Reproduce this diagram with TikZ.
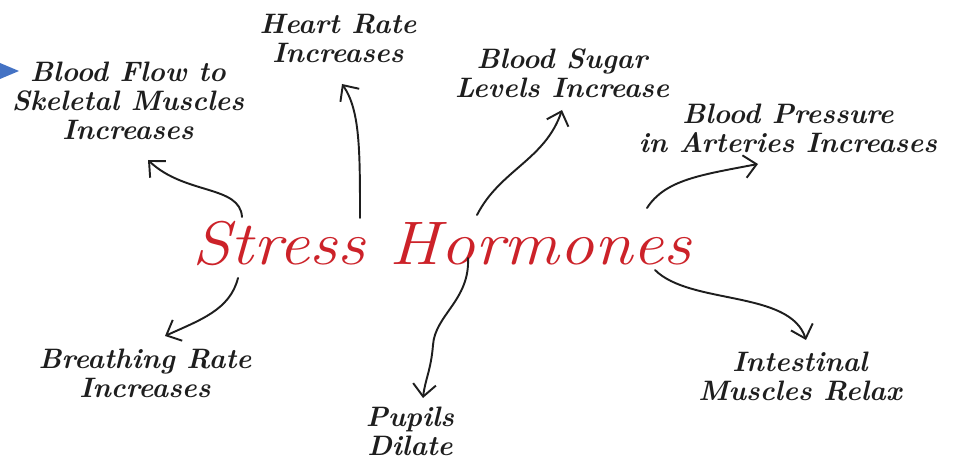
\documentclass[tikz,border=0pt]{standalone}
\usetikzlibrary{arrows.meta}
\definecolor{ink}{RGB}{30,30,30}
\definecolor{shred}{RGB}{204,34,41}
\definecolor{bluetri}{RGB}{68,114,196}
\begin{document}
\begin{tikzpicture}[x=0.02cm,y=-0.02cm,
  lbl/.style={font=\fontsize{16}{16.5}\selectfont\bfseries\itshape, align=center, text=ink, inner sep=0pt},
  arr/.style={line width=1.1pt, draw=ink, line cap=round,
    -{Straight Barb[length=7pt,width=13pt,line width=1.1pt]}},
]
\useasboundingbox (0,0) rectangle (953,459);
\fill[bluetri] (0,63) -- (19,71) -- (0,79) -- cycle;
\node[font=\fontsize{35}{35}\selectfont\itshape, text=shred, inner sep=0pt, xscale=1.13] (sh) at (442,243) {Stress Hormones};
\node[lbl] (bf) at (128,101) {Blood Flow to\\Skeletal Muscles\\Increases};
\node[lbl] (hr) at (338,38) {Heart Rate\\Increases};
\node[lbl] (bs) at (562,73) {Blood Sugar\\Levels Increase};
\node[lbl] (bp) at (788,128) {Blood Pressure\\in Arteries Increases};
\node[lbl] (br) at (145,373) {Breathing Rate\\Increases};
\node[lbl] (pu) at (410,431) {Pupils\\Dilate};
\node[lbl] (im) at (800,376) {Intestinal\\Muscles Relax};
% start and end points
\coordinate (s1) at (242,217); \coordinate (e1) at (148,160);
\coordinate (s2) at (360,218); \coordinate (e2) at (342,84);
\coordinate (s3) at (477,215); \coordinate (e3) at (562,110);
\coordinate (s4) at (647,208); \coordinate (e4) at (758,164);
\coordinate (s5) at (238,278); \coordinate (e5) at (165,336);
\coordinate (s6) at (468,258); \coordinate (m6) at (433,345); \coordinate (e6) at (423,398);
\coordinate (s7) at (655,270); \coordinate (e7) at (806,340);
\draw[arr] (s1) .. controls (240,185) and (185,195) .. (e1);
\draw[arr] (s2) .. controls (360,150) and (360,110) .. (e2);
\draw[arr] (s3) .. controls (500,170) and (545,160) .. (e3);
\draw[arr] (s4) .. controls (665,180) and (700,175) .. (e4);
\draw[arr] (s5) .. controls (230,310) and (200,320) .. (e5);
\draw[arr] (s6) .. controls (470,300) and (435,315) .. (m6) .. controls (431,370) and (425,380) .. (e6);
\draw[arr] (s7) .. controls (690,305) and (790,290) .. (e7);
\end{tikzpicture}
\end{document}
